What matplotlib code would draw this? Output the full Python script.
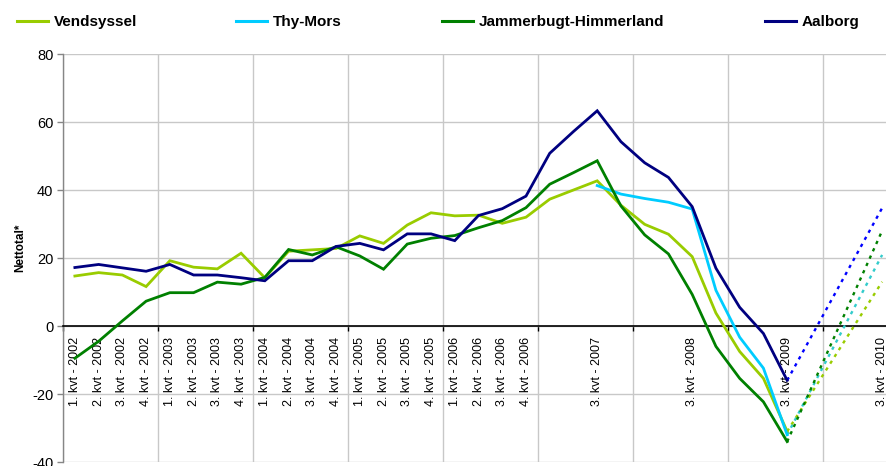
import numpy as np
import matplotlib
matplotlib.use("Agg")
import matplotlib.pyplot as plt
from matplotlib.lines import Line2D

plt.rcParams['font.family'] = ['Liberation Sans', 'DejaVu Sans']
plt.rcParams['axes.unicode_minus'] = False

nan = np.nan

tick_labels = [
    "1. kvt - 2002", "2. kvt - 2002", "3. kvt - 2002", "4. kvt - 2002",
    "1. kvt - 2003", "2. kvt - 2003", "3. kvt - 2003", "4. kvt - 2003",
    "1. kvt - 2004", "2. kvt - 2004", "3. kvt - 2004", "4. kvt - 2004",
    "1. kvt - 2005", "2. kvt - 2005", "3. kvt - 2005", "4. kvt - 2005",
    "1. kvt - 2006", "2. kvt - 2006", "3. kvt - 2006", "4. kvt - 2006",
    "", "", "3. kvt - 2007", "",
    "", "", "3. kvt - 2008", "",
    "", "", "3. kvt - 2009", "",
    "", "", "3. kvt - 2010",
]

series_names = ["Vendsyssel", "Thy-Mors", "Jammerbugt-Himmerland", "Aalborg"]

vendsyssel = [14.7, 15.7, 15.0, 11.6,
              19.2, 17.3, 16.8, 21.4,
              14.2, 22.0, 22.4, 22.8,
              26.5, 24.3, 29.7, 33.3,
              32.4, 32.6, 30.2, 32.0,
              37.3, 40.0, 42.7, 35.5,
              29.9, 27.0, 20.4, 3.8,
              -7.5, -15.4, -31.0, nan,
              nan, nan, nan]

thy_mors = [nan, nan, nan, nan,
            nan, nan, nan, nan,
            nan, nan, nan, nan,
            nan, nan, nan, nan,
            nan, nan, nan, nan,
            nan, nan, 41.3, 38.8,
            37.5, 36.4, 34.4, 10.5,
            -3.3, -12.4, -32.0, nan,
            nan, nan, nan]

jammerbugt = [-9.5, -4.5, 1.5, 7.3,
              9.8, 9.8, 12.9, 12.3,
              14.3, 22.5, 20.9, 23.3,
              20.6, 16.7, 24.1, 25.8,
              26.6, 28.9, 31.0, 34.8,
              41.7, 45.1, 48.6, 35.3,
              26.8, 21.2, 9.3, -6.0,
              -15.4, -22.3, -34.0, nan,
              nan, nan, nan]

aalborg = [17.2, 18.1, 17.1, 16.1,
           18.1, 15.0, 15.0, 14.2,
           13.3, 19.2, 19.2, 23.4,
           24.3, 22.4, 27.1, 27.1,
           25.1, 32.5, 34.5, 38.2,
           50.8, 57.2, 63.3, 54.2,
           48.0, 43.7, 35.1, 17.0,
           5.5, -2.2, -16.0, nan,
           nan, nan, nan]

# forecast (dotted) series: 3. kvt 2009 -> 3. kvt 2010
vendsyssel_fc = [nan] * 30 + [-31.0, nan, nan, nan, 13.0]
thy_mors_fc = [nan] * 30 + [-32.0, nan, nan, nan, 20.9]
jammerbugt_fc = [nan] * 30 + [-34.0, nan, nan, nan, 28.0]
aalborg_fc = [nan] * 30 + [-16.0, nan, nan, nan, 34.7]

solid_colors = ["#99CC00", "#00CCFF", "#008000", "#000080"]
fc_colors = ["#99CC00", "#33CCCC", "#008000", "#0000FF"]

W, H = 886, 466
fig = plt.figure(figsize=(W / 100, H / 100), dpi=100)
ax = fig.add_axes([63 / W, 4 / H, 831 / W, 408 / H])

x = np.arange(len(tick_labels))
solid = [vendsyssel, thy_mors, jammerbugt, aalborg]
fcs = [vendsyssel_fc, thy_mors_fc, jammerbugt_fc, aalborg_fc]

for vals, col in zip(fcs, fc_colors):
    v = np.array(vals, dtype=float)
    m = ~np.isnan(v)
    ax.plot(x[m], v[m], color=col, lw=1.7, linestyle=(0, (1.4, 2.0)),
            dash_capstyle='butt', zorder=3)

for vals, col in zip(solid, solid_colors):
    ax.plot(x, np.array(vals, dtype=float), color=col, lw=2.0, zorder=4,
            solid_joinstyle='miter')

ax.set_xlim(-0.5, len(tick_labels) - 0.5)
ax.set_ylim(-40, 80)

ax.set_xticks(x)
ax.set_xticklabels(tick_labels)
ax.set_xticks(np.arange(-0.5, len(tick_labels), 4), minor=True)
ax.tick_params(axis='x', which='major', length=0, pad=8, labelrotation=90,
               labelsize=9)
for lab in ax.get_xticklabels():
    lab.set_fontweight('bold')
ax.tick_params(axis='x', which='minor', length=3.5, width=1.0, color='black',
               direction='out')
ax.grid(axis='x', which='minor', color='#C8C8C8', lw=1.0)

ax.set_yticks(np.arange(-40, 81, 20))
ax.tick_params(axis='y', which='major', length=4, width=1.0, color='#868686',
               direction='out', labelsize=10.5, pad=3)
ax.grid(axis='y', which='major', color='#C8C8C8', lw=1.0)
ax.set_axisbelow(True)

for s in ['top', 'right']:
    ax.spines[s].set_visible(False)
ax.spines['left'].set_color('#868686')
ax.spines['left'].set_linewidth(1.0)
ax.spines['bottom'].set_position(('data', 0))
ax.spines['bottom'].set_color('black')
ax.spines['bottom'].set_linewidth(1.2)

fig.text(20 / W, 1 - 248 / H, "Nettotal*", rotation=90, fontsize=8.5,
         fontweight='bold', ha='center', va='center')

# legend entries
leg_x = [17, 236, 442, 765]
for name, col, lx in zip(series_names, solid_colors, leg_x):
    h = Line2D([], [], color=col, lw=2.2)
    fig.legend([h], [name], loc='center left',
               bbox_to_anchor=(lx / W, 1 - 22 / H),
               frameon=False, borderpad=0, borderaxespad=0,
               handlelength=2.05, handletextpad=0.35,
               prop={'weight': 'bold', 'size': 11})

fig.savefig("out.png", dpi=100)
